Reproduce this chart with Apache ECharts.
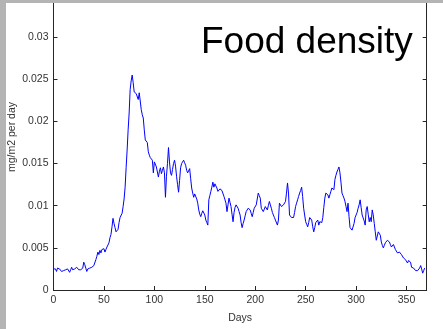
<!DOCTYPE html>
<html>
<head>
<meta charset="utf-8">
<script src="https://cdn.jsdelivr.net/npm/echarts@6/dist/echarts.min.js"></script>
<style>
  html, body { margin: 0; padding: 0; background: #ffffff; }
  #chart { width: 443px; height: 329px; }
</style>
</head>
<body>
<div id="chart"></div>
<script>
// Daily food density (mg/m2 per day), starting at day 0
const startDay = 0;
const foodDensity = [
  0.0025, 0.0023, 0.0025, 0.0022, 0.0026, 0.0028, 0.0025, 0.0024, 0.0022, 0.0024,
  0.0023, 0.0021, 0.0024, 0.0022, 0.0025, 0.0023, 0.0021, 0.0024, 0.0027, 0.0024,
  0.0022, 0.0025, 0.0023, 0.0027, 0.0025, 0.0024, 0.0022, 0.0024, 0.0023, 0.0026,
  0.0033, 0.0030, 0.0026, 0.0022, 0.0025, 0.0023, 0.0026, 0.0024, 0.0027, 0.0028,
  0.0029, 0.0031, 0.0036, 0.0040, 0.0045, 0.0042, 0.0047, 0.0044, 0.0048, 0.0046,
  0.0049, 0.0045, 0.0048, 0.0051, 0.0050, 0.0056, 0.0062, 0.0066, 0.0075, 0.0085,
  0.0079, 0.0074, 0.0069, 0.0067, 0.0072, 0.0080, 0.0086, 0.0085, 0.0091, 0.0099,
  0.0108, 0.0122, 0.0145, 0.0166, 0.0190, 0.0210, 0.0238, 0.0248, 0.0255, 0.0246,
  0.0235, 0.0237, 0.0233, 0.0231, 0.0226, 0.0234, 0.0232, 0.0214, 0.0208, 0.0204,
  0.0190, 0.0178, 0.0180, 0.0175, 0.0164, 0.0160, 0.0157, 0.0158, 0.0154, 0.0139,
  0.0152, 0.0150, 0.0146, 0.0140, 0.0134, 0.0141, 0.0145, 0.0138, 0.0142, 0.0146,
  0.0139, 0.0110, 0.0135, 0.0150, 0.0169, 0.0152, 0.0139, 0.0136, 0.0143, 0.0150,
  0.0154, 0.0147, 0.0135, 0.0125, 0.0116, 0.0130, 0.0145, 0.0150, 0.0148, 0.0154,
  0.0151, 0.0148, 0.0142, 0.0139, 0.0141, 0.0144, 0.0132, 0.0121, 0.0115, 0.0110,
  0.0114, 0.0116, 0.0108, 0.0103, 0.0095, 0.0090, 0.0087, 0.0091, 0.0094, 0.0095,
  0.0089, 0.0083, 0.0080, 0.0077, 0.0107, 0.0112, 0.0117, 0.0122, 0.0128, 0.0122,
  0.0126, 0.0125, 0.0121, 0.0117, 0.0119, 0.0120, 0.0121, 0.0118, 0.0116, 0.0111,
  0.0107, 0.0103, 0.0093, 0.0101, 0.0109, 0.0104, 0.0099, 0.0090, 0.0081, 0.0092,
  0.0098, 0.0101, 0.0100, 0.0097, 0.0093, 0.0089, 0.0080, 0.0074, 0.0079, 0.0083,
  0.0088, 0.0093, 0.0095, 0.0097, 0.0096, 0.0095, 0.0091, 0.0087, 0.0092, 0.0097,
  0.0099, 0.0101, 0.0099, 0.0115, 0.0112, 0.0109, 0.0097, 0.0095, 0.0093, 0.0096,
  0.0099, 0.0097, 0.0095, 0.0100, 0.0105, 0.0101, 0.0097, 0.0092, 0.0089, 0.0086,
  0.0083, 0.0081, 0.0077, 0.0083, 0.0103, 0.0101, 0.0099, 0.0100, 0.0101, 0.0103,
  0.0105, 0.0115, 0.0127, 0.0115, 0.0089, 0.0087, 0.0086, 0.0085, 0.0086, 0.0092,
  0.0099, 0.0103, 0.0107, 0.0111, 0.0115, 0.0118, 0.0122, 0.0111, 0.0097, 0.0089,
  0.0081, 0.0078, 0.0075, 0.0080, 0.0086, 0.0084, 0.0083, 0.0075, 0.0069, 0.0074,
  0.0080, 0.0082, 0.0083, 0.0077, 0.0081, 0.0083, 0.0080, 0.0086, 0.0098, 0.0109,
  0.0115, 0.0114, 0.0113, 0.0109, 0.0113, 0.0117, 0.0121, 0.0120, 0.0119, 0.0131,
  0.0136, 0.0140, 0.0143, 0.0146, 0.0139, 0.0128, 0.0115, 0.0112, 0.0109, 0.0105,
  0.0099, 0.0093, 0.0103, 0.0087, 0.0074, 0.0072, 0.0071, 0.0073, 0.0079, 0.0086,
  0.0089, 0.0092, 0.0097, 0.0101, 0.0107, 0.0098, 0.0089, 0.0087, 0.0082, 0.0077,
  0.0095, 0.0099, 0.0090, 0.0081, 0.0086, 0.0081, 0.0095, 0.0089, 0.0079, 0.0069,
  0.0059, 0.0064, 0.0069, 0.0067, 0.0065, 0.0057, 0.0053, 0.0050, 0.0053, 0.0056,
  0.0058, 0.0059, 0.0058, 0.0057, 0.0054, 0.0051, 0.0053, 0.0054, 0.0051, 0.0048,
  0.0046, 0.0044, 0.0046, 0.0045, 0.0043, 0.0042, 0.0040, 0.0038, 0.0037, 0.0036,
  0.0034, 0.0032, 0.0035, 0.0034, 0.0033, 0.0027, 0.0029, 0.0026, 0.0024, 0.0023,
  0.0021, 0.0023, 0.0024, 0.0026, 0.0029, 0.0025, 0.0020, 0.0023, 0.0026
];

const titleText = 'Food density';
const xAxisName = 'Days';
const yAxisName = 'mg/m2 per day';

const seriesData = foodDensity.map((v, i) => [startDay + i, v]);

const axisColor = '#262626';
const labelColor = '#333333';
const fontFamily = '"Liberation Sans", Arial, sans-serif';

const chart = echarts.init(document.getElementById('chart'), null, { renderer: 'canvas' });

chart.setOption({
  animation: false,
  backgroundColor: '#ffffff',
  grid: { left: 53.5, right: 16.3, top: -5, bottom: 39, containLabel: false, outerBoundsMode: 'none' },
  xAxis: {
    type: 'value',
    min: 0,
    max: 370,
    interval: 50,
    name: xAxisName,
    nameLocation: 'middle',
    nameGap: 23,
    nameTextStyle: { color: labelColor, fontSize: 10.5, fontFamily: fontFamily },
    axisLine: { lineStyle: { color: axisColor, width: 1 } },
    axisTick: { inside: true, length: 4, lineStyle: { color: axisColor } },
    axisLabel: { color: labelColor, fontSize: 10.5, fontFamily: fontFamily, margin: 5, showMaxLabel: false },
    splitLine: { show: false }
  },
  yAxis: [
    {
      type: 'value',
      min: 0,
      max: 0.035,
      interval: 0.005,
      position: 'left',
      axisLine: { show: true, lineStyle: { color: axisColor, width: 1 } },
      axisTick: { show: true, inside: true, length: 4, lineStyle: { color: axisColor } },
      axisLabel: { color: labelColor, fontSize: 10.5, fontFamily: fontFamily, margin: 5 },
      splitLine: { show: false }
    },
    {
      type: 'value',
      min: 0,
      max: 0.035,
      interval: 0.005,
      position: 'right',
      axisLine: { show: true, lineStyle: { color: axisColor, width: 1 } },
      axisTick: { show: true, inside: true, length: 4, lineStyle: { color: axisColor } },
      axisLabel: { show: false },
      splitLine: { show: false }
    }
  ],
  series: [{
    type: 'line',
    data: seriesData,
    showSymbol: false,
    lineStyle: { color: '#0000ff', width: 1 },
    itemStyle: { color: '#0000ff' }
  }],
  graphic: [
    {
      type: 'text',
      left: 201,
      top: 24,
      style: { text: titleText, fill: '#000000', fontSize: 37, fontFamily: fontFamily }
    },
    {
      // vertical axis title
      type: 'text',
      x: 12,
      y: 137,
      rotation: Math.PI / 2,
      style: {
        text: yAxisName, fill: labelColor, fontSize: 10.5, fontFamily: fontFamily,
        align: 'center', verticalAlign: 'middle'
      }
    },
    { type: 'rect', shape: { x: 0, y: 0, width: 6, height: 329 }, style: { fill: '#b4b4b4' }, z: 100 },
    { type: 'rect', shape: { x: 0, y: 0, width: 443, height: 3 }, style: { fill: '#b4b4b4' }, z: 100 }
  ]
});
</script>
</body>
</html>
